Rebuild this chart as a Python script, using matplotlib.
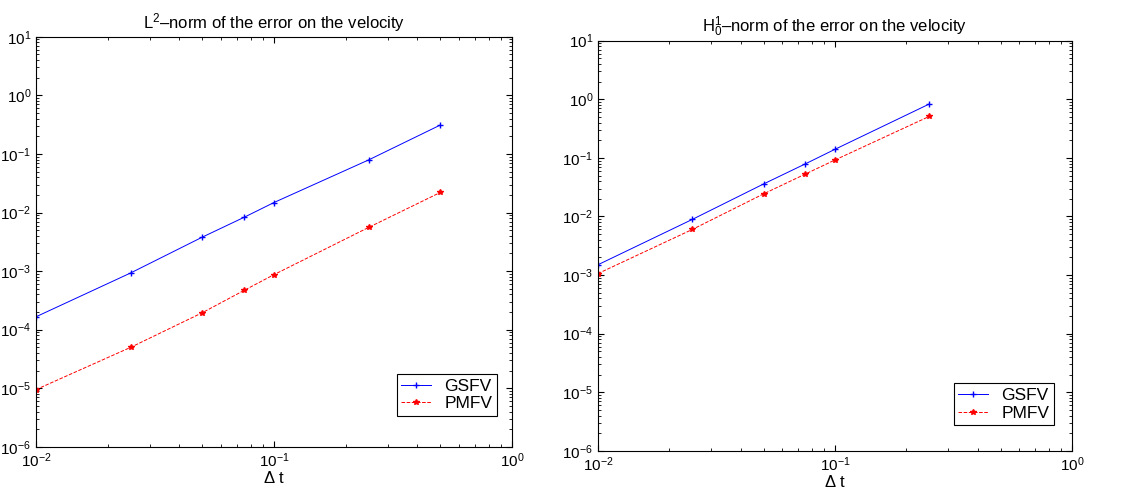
import numpy as np
import matplotlib
matplotlib.use('Agg')
import matplotlib.pyplot as plt
from matplotlib.ticker import LogLocator, NullFormatter

plt.rcParams['font.family'] = ['Liberation Sans', 'DejaVu Sans']
plt.rcParams['mathtext.fontset'] = 'custom'
plt.rcParams['mathtext.rm'] = 'Liberation Sans'
plt.rcParams['mathtext.it'] = 'Liberation Sans:italic'
plt.rcParams['mathtext.bf'] = 'Liberation Sans:bold'

# time steps
dt_l2 = [0.01, 0.025, 0.05, 0.075, 0.1, 0.25, 0.5]
dt_h1 = [0.01, 0.025, 0.05, 0.075, 0.1, 0.25]

# L2 errors
gsfv_l2 = [1.66e-4, 9.3e-4, 3.8e-3, 8.3e-3, 1.48e-2, 7.9e-2, 0.311]
pmfv_l2 = [9.5e-6, 5.0e-5, 1.95e-4, 4.7e-4, 8.7e-4, 5.57e-3, 2.2e-2]

# H1_0 errors
gsfv_h1 = [1.5e-3, 8.9e-3, 3.59e-2, 7.9e-2, 0.14, 0.83]
pmfv_h1 = [1.06e-3, 6.0e-3, 2.43e-2, 5.3e-2, 9.2e-2, 0.51]

titles = [r'L$^2$–norm of the error on the velocity',
          r'H$^1_0$–norm of the error on the velocity']

fig = plt.figure(figsize=(11.24, 4.96), dpi=100)
ax1 = fig.add_axes([0.032, 0.099, 0.4235, 0.827])
ax2 = fig.add_axes([0.532, 0.091, 0.4217, 0.827])

data = [(ax1, dt_l2, gsfv_l2, pmfv_l2, titles[0], (0.968, 0.076)),
        (ax2, dt_h1, gsfv_h1, pmfv_h1, titles[1], (0.962, 0.063))]

for ax, dt, g, p, title, anchor in data:
    ax.loglog(dt, g, color='#0000ff', linestyle='-', marker='+',
              markersize=5, linewidth=0.7, label='GSFV')
    ax.loglog(dt, p, color='#ff0000', linestyle='--', marker='*',
              markersize=4, linewidth=0.7, label='PMFV')
    ax.set_xlim(1e-2, 1e0)
    ax.set_ylim(1e-6, 1e1)
    ax.set_title(title, fontsize=12)
    ax.set_xlabel(r'$\Delta$ t', fontsize=12, labelpad=0)
    for axis in (ax.xaxis, ax.yaxis):
        axis.set_major_locator(LogLocator(base=10, numticks=20))
        axis.set_minor_locator(LogLocator(base=10, subs=np.arange(2, 10), numticks=100))
        axis.set_minor_formatter(NullFormatter())
    ax.tick_params(which='both', direction='in', top=True, right=True)
    ax.tick_params(which='major', length=4, labelsize=11)
    ax.tick_params(which='minor', length=2)
    for s in ax.spines.values():
        s.set_linewidth(0.8)
    leg = ax.legend(loc='lower right', fontsize=12.5, fancybox=False,
                    framealpha=1, edgecolor='black', borderpad=0.25,
                    labelspacing=0.15, handlelength=1.7,
                    bbox_to_anchor=anchor, borderaxespad=0)
    leg.get_frame().set_linewidth(0.8)

fig.savefig('out.png', dpi=100)
